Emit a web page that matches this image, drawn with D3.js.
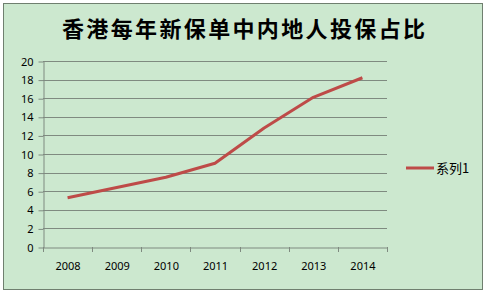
<!DOCTYPE html>
<html>
<head>
<meta charset="utf-8">
<script src="https://cdn.jsdelivr.net/npm/d3@7"></script>
<style>
  html, body { margin: 0; padding: 0; background: #ffffff; }
  svg { display: block; }
</style>
</head>
<body>
<div id="chart"></div>
<script>
// DATA
const years = ["2008", "2009", "2010", "2011", "2012", "2013", "2014"];
const share = [5.3, 6.4, 7.5, 9.0, 12.8, 16.1, 18.2];
const yTicks = [0, 2, 4, 6, 8, 10, 12, 14, 16, 18, 20];
const seriesName = "系列1";
const title = "香港每年新保单中内地人投保占比";

// SVG DIMENSIONS
const width = 487, height = 295;
const svg = d3.select("#chart").append("svg")
	.attr("width", width)
	.attr("height", height);

// chart frame
svg.append("rect")
	.attr("x", 3.5).attr("y", 3.5)
	.attr("width", 479).attr("height", 286)
	.attr("fill", "#cce8cf")
	.attr("stroke", "#6f7f6f")
	.attr("stroke-width", 1);

// title, squeezed to the reference width
svg.append("text")
	.attr("x", 62).attr("y", 37)
	.attr("font-family", "'Noto Sans CJK SC', sans-serif")
	.attr("font-size", 22)
	.attr("font-weight", "bold")
	.attr("textLength", 363)
	.attr("lengthAdjust", "spacing")
	.attr("fill", "#000")
	.text(title);

// SCALES
const plot = { left: 43, right: 387, top: 61, bottom: 247 };
const x = d3.scaleBand().domain(years).range([plot.left, plot.right]);
const y = d3.scaleLinear().domain([0, 20]).range([plot.bottom, plot.top]);

// gridlines
svg.append("g")
	.selectAll("line")
	.data(yTicks.filter(d => d > 0))
	.enter()
	.append("line")
		.attr("x1", plot.left).attr("x2", plot.right)
		.attr("y1", d => Math.round(y(d)) + 0.5)
		.attr("y2", d => Math.round(y(d)) + 0.5)
		.attr("stroke", "#7f8a80")
		.attr("stroke-width", 1);

// y axis
const yAxis = svg.append("g")
	.attr("transform", `translate(${plot.left + 0.5},0.5)`)
	.call(d3.axisLeft(y).tickValues(yTicks).tickSize(5).tickSizeOuter(0));
yAxis.select(".domain").attr("stroke", "#7f8a80");
yAxis.selectAll(".tick line").attr("stroke", "#7f8a80");
yAxis.selectAll(".tick text")
	.attr("x", -10)
	.attr("font-family", "'Noto Sans', 'DejaVu Sans', sans-serif")
	.attr("font-size", 11)
	.attr("fill", "#000");

// x axis
const xAxis = svg.append("g")
	.attr("transform", `translate(0.5,${plot.bottom + 0.5})`)
	.call(d3.axisBottom(x).tickSize(0).tickSizeOuter(0));
xAxis.select(".domain").attr("stroke", "#7f8a80");
xAxis.selectAll(".tick text")
	.attr("y", 15)
	.attr("font-family", "'Noto Sans', 'DejaVu Sans', sans-serif")
	.attr("font-size", 11)
	.attr("fill", "#000");
// category boundary ticks
svg.append("g")
	.selectAll("line")
	.data(years.concat(["end"]))
	.enter()
	.append("line")
		.attr("x1", (d, i) => Math.round(plot.left + i * x.step()) + 0.5)
		.attr("x2", (d, i) => Math.round(plot.left + i * x.step()) + 0.5)
		.attr("y1", plot.bottom)
		.attr("y2", plot.bottom + 5)
		.attr("stroke", "#7f8a80");

// line
const line = d3.line()
	.x((d, i) => x(years[i]) + x.bandwidth() / 2)
	.y(d => y(d));
svg.append("path")
	.datum(share)
	.attr("d", line)
	.attr("fill", "none")
	.attr("stroke", "#be4b48")
	.attr("stroke-width", 3)
	.attr("stroke-linejoin", "round");

// legend
svg.append("line")
	.attr("x1", 406).attr("x2", 434)
	.attr("y1", 168).attr("y2", 168)
	.attr("stroke", "#be4b48")
	.attr("stroke-width", 3);
svg.append("text")
	.attr("x", 436).attr("y", 173)
	.attr("font-family", "'Noto Sans CJK SC', sans-serif")
	.attr("font-size", 13)
	.attr("fill", "#000")
	.text(seriesName);
</script>
</body>
</html>
